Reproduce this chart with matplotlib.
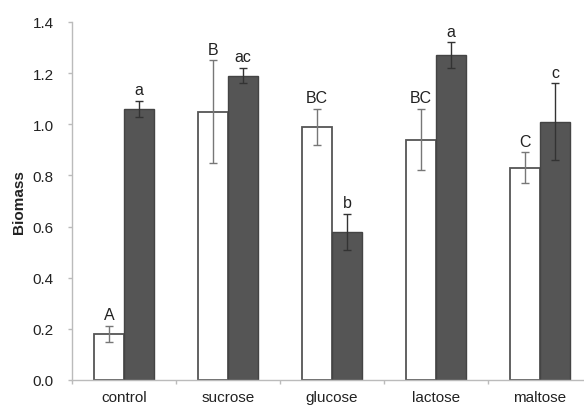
import numpy as np
import matplotlib.pyplot as plt

plt.rcParams['font.family'] = ['Liberation Sans', 'DejaVu Sans']

# ===== Data =====
categories = ["control", "sucrose", "glucose", "lactose", "maltose"]
white_vals = [0.18, 1.05, 0.99, 0.94, 0.83]
white_err = [0.03, 0.20, 0.07, 0.12, 0.06]
dark_vals = [1.06, 1.19, 0.58, 1.27, 1.01]
dark_err = [0.03, 0.03, 0.07, 0.05, 0.15]
white_letters = ["A", "B", "BC", "BC", "C"]
dark_letters = ["a", "ac", "b", "a", "c"]

# ===== Plotting =====
fig = plt.figure(figsize=(5.84, 4.10), dpi=100)
ax = fig.add_axes([72 / 584, 29 / 410, 520 / 584, 358 / 410])

x = np.arange(len(categories))
w = 0.29
axis_gray = "#bbbbbb"
err_gray = "#777777"

ax.bar(x - w / 2, white_vals, w, color="white", edgecolor="#555555", linewidth=1.3, zorder=2)
ax.bar(x + w / 2, dark_vals, w, color="#555555", edgecolor="#444444", linewidth=1.0, zorder=2)
ax.errorbar(x - w / 2, white_vals, yerr=white_err, fmt="none", ecolor=err_gray,
            elinewidth=1.0, capsize=3, capthick=1.0, zorder=3)
ax.errorbar(x + w / 2, dark_vals, yerr=dark_err, fmt="none", ecolor="#333333",
            elinewidth=1.0, capsize=3, capthick=1.0, zorder=3)

for i in range(len(categories)):
    ax.text(x[i] - w / 2, white_vals[i] + white_err[i] + 0.015, white_letters[i],
            ha="center", va="bottom", fontsize=11.5, color="#222222")
    ax.text(x[i] + w / 2, dark_vals[i] + dark_err[i] + 0.015, dark_letters[i],
            ha="center", va="bottom", fontsize=11.5, color="#222222")

# ====== Final tweaks =====
ax.set_xlim(-0.5, len(categories) - 0.5)
ax.set_ylim(0, 1.4)
ax.set_yticks(np.arange(0, 1.41, 0.2))
ax.set_yticklabels([f"{v:.1f}" for v in np.arange(0, 1.41, 0.2)], fontsize=11, color="#222222")
ax.set_xticks(x)
ax.set_xticklabels(categories, fontsize=11, color="#222222")
ax.tick_params(axis="x", length=0, pad=7)
ax.set_xticks(np.arange(-0.5, len(categories), 1.0), minor=True)
ax.tick_params(axis="x", which="minor", length=3, color=axis_gray, width=1.0)
ax.tick_params(axis="y", length=3, color=axis_gray, width=1.0, pad=10)

for side in ["top", "right"]:
    ax.spines[side].set_visible(False)
for side in ["left", "bottom"]:
    ax.spines[side].set_color(axis_gray)
    ax.spines[side].set_linewidth(1.0)

ax.set_ylabel("Biomass", fontsize=11, fontweight="bold", color="#222222", labelpad=5)

plt.savefig("out.png")
plt.close()
